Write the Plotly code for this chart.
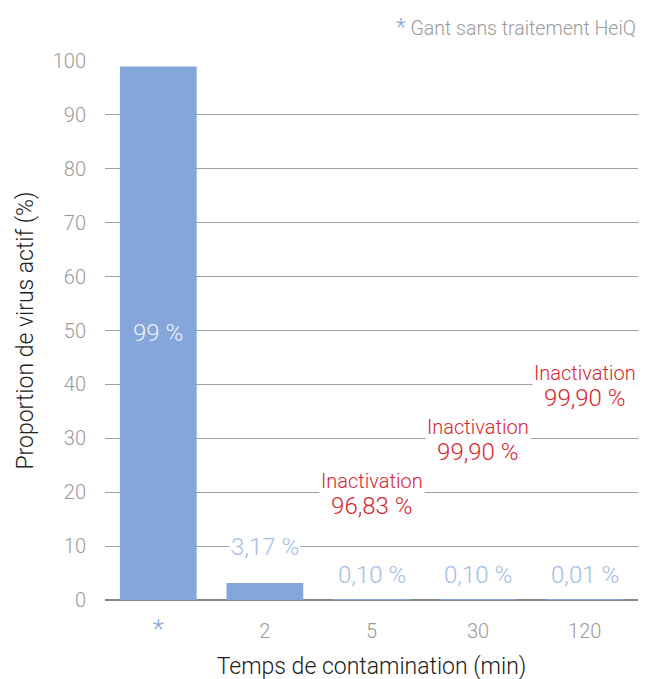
import plotly.graph_objects as go

categories = ["*", "2", "5", "30", "120"]
values = [99.0, 3.17, 0.10, 0.10, 0.01]
value_labels = ["99 %", "3,17 %", "0,10 %", "0,10 %", "0,01 %"]
inactivation_cats = ["5", "30", "120"]
inactivation_labels = ["96,83 %", "99,90 %", "99,90 %"]
y_ticks = [0, 10, 20, 30, 40, 50, 60, 70, 80, 90, 100]

BLUE = "#84a6d9"
LIGHT_BLUE = "#a3bde6"
RED = "#d7262f"
GRAY = "#9a9a9a"
FONT = "Roboto"

fig = go.Figure()
fig.add_trace(go.Bar(
    x=list(range(len(categories))), y=values,
    marker=dict(color=BLUE, line=dict(width=0)),
    width=0.72, hoverinfo="skip",
))

ticktext = [f'<span style="color:{BLUE};font-size:26px">*</span>' if c == "*" else c
            for c in categories]

annotations = []
# value labels
for i, (v, lab) in enumerate(zip(values, value_labels)):
    if v > 50:
        y = v / 2
        color = "#eef2fa"
        bg = None
    else:
        y = 9.8 if v > 1 else 4.6
        color = LIGHT_BLUE
        bg = "white"
    annotations.append(dict(
        x=i, y=y, xref="x", yref="y", text=lab, showarrow=False,
        font=dict(family=FONT, size=24, color=color, weight=300),
        bgcolor=bg, borderpad=1,
    ))
# inactivation labels
for k, (c, lab) in enumerate(zip(inactivation_cats, inactivation_labels)):
    i = categories.index(c)
    annotations.append(dict(
        x=i, y=20 + 10 * k, xref="x", yref="y", yshift=-2,
        text=f'Inactivation<br><span style="font-size:24px">{lab}</span>',
        showarrow=False,
        font=dict(family=FONT, size=20, color=RED, weight=300),
        bgcolor="white", borderpad=1, align="center",
    ))
# legend note
annotations.append(dict(
    x=1.0, y=1.0, xref="paper", yref="paper", xanchor="right", yanchor="bottom",
    yshift=18,
    text=f'<span style="color:{BLUE};font-size:23px">*</span> Gant sans traitement HeiQ',
    showarrow=False,
    font=dict(family=FONT, size=19.5, color=GRAY, weight=300),
))

fig.update_layout(
    width=655, height=679,
    margin=dict(l=97, r=25, t=53, b=87),
    paper_bgcolor="white", plot_bgcolor="white",
    font=dict(family=FONT, size=18, color=GRAY, weight=300),
    showlegend=False,
    xaxis=dict(
        tickmode="array", tickvals=list(range(len(categories))), ticktext=ticktext,
        range=[-0.5, len(categories) - 0.5],
        showgrid=False, zeroline=False, showline=False, ticks="",
        ticklabelstandoff=17,
        tickfont=dict(family=FONT, size=20, color=GRAY, weight=300),
        title=dict(text="Temps de contamination (min)", standoff=14,
                   font=dict(family=FONT, size=23, color="#222222", weight=300)),
    ),
    yaxis=dict(
        range=[0, 100], tickmode="array", tickvals=y_ticks,
        showgrid=True, gridcolor="#a0a0a0", gridwidth=1,
        zeroline=True, zerolinecolor="#888888", zerolinewidth=1.5,
        showline=False, ticks="", ticklabelstandoff=18,
        tickfont=dict(family=FONT, size=20, color=GRAY, weight=300),
        title=dict(text="Proportion de virus actif (%)", standoff=12,
                   font=dict(family=FONT, size=23, color="#222222", weight=300)),
    ),
    annotations=annotations,
)

fig.write_html("out.html")
